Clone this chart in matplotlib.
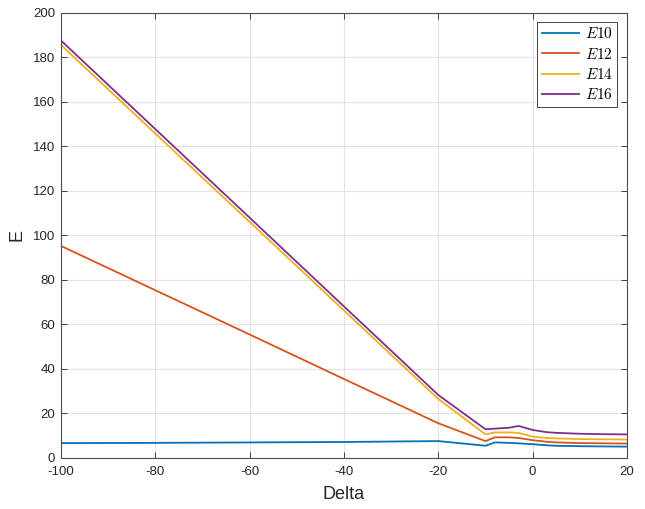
import matplotlib
matplotlib.use('Agg')
import matplotlib.pyplot as plt

plt.rcParams['font.family'] = ['Liberation Sans', 'DejaVu Sans']
plt.rcParams['mathtext.fontset'] = 'cm'

# values
delta = [-100, -80, -60, -40, -20, -10, -8, -5, -3, 0, 3, 5, 10, 15, 20]
e10 = [6.7, 6.8, 7.0, 7.2, 7.6, 5.5, 7.0, 6.8, 6.6, 6.2, 5.7, 5.5, 5.3, 5.2, 5.1]
e12 = [95.3, 75.4, 55.5, 35.5, 15.6, 7.6, 9.3, 9.3, 9.0, 8.0, 7.3, 7.0, 6.7, 6.6, 6.5]
e14 = [185.6, 145.8, 106.1, 66.3, 26.5, 10.6, 11.5, 11.5, 11.3, 9.6, 9.0, 8.8, 8.5, 8.4, 8.3]
e16 = [187.6, 147.8, 108.0, 68.1, 28.3, 12.9, 13.2, 13.6, 14.4, 12.6, 11.6, 11.3, 10.9, 10.7, 10.6]
labels = [r'$E10$', r'$E12$', r'$E14$', r'$E16$']
colors = ['#0072BD', '#D95319', '#EDB120', '#7E2F8E']

fig = plt.figure(figsize=(6.45, 5.09), dpi=100)
ax = fig.add_axes([0.0946, 0.1002, 0.8775, 0.8743])

for y, lab, c in zip([e10, e12, e14, e16], labels, colors):
    ax.plot(delta, y, color=c, lw=1.3, label=lab)

ax.set_xlim(-100, 20)
ax.set_ylim(0, 200)
ax.set_xticks(range(-100, 21, 20))
ax.set_yticks(range(0, 201, 20))
ax.set_xticklabels([str(v) for v in range(-100, 21, 20)])
ax.grid(True, color='#e3e3e3', lw=0.8)
ax.set_axisbelow(True)
ax.tick_params(direction='in', top=True, right=True, labelsize=9.5,
               colors='#262626', length=4, width=0.6)
ax.tick_params(axis='x', pad=6)
ax.tick_params(axis='y', pad=4.3)
for s in ax.spines.values():
    s.set_color('#4d4d4d')
    s.set_linewidth(0.8)

ax.set_xlabel('Delta', fontsize=13, color='#262626')
ax.set_ylabel('E', fontsize=13, color='#262626')
ax.xaxis.set_label_coords(0.5, -0.063)
ax.yaxis.set_label_coords(-0.062, 0.5)

leg = ax.legend(loc='upper right', fontsize=11, fancybox=False,
                framealpha=1, edgecolor='#262626', handlelength=2.4,
                borderpad=0.3, labelspacing=0.35, handletextpad=0.4,
                borderaxespad=0, bbox_to_anchor=(0.983, 0.9805))
leg.get_frame().set_linewidth(0.6)

fig.savefig('out.png', dpi=100)
